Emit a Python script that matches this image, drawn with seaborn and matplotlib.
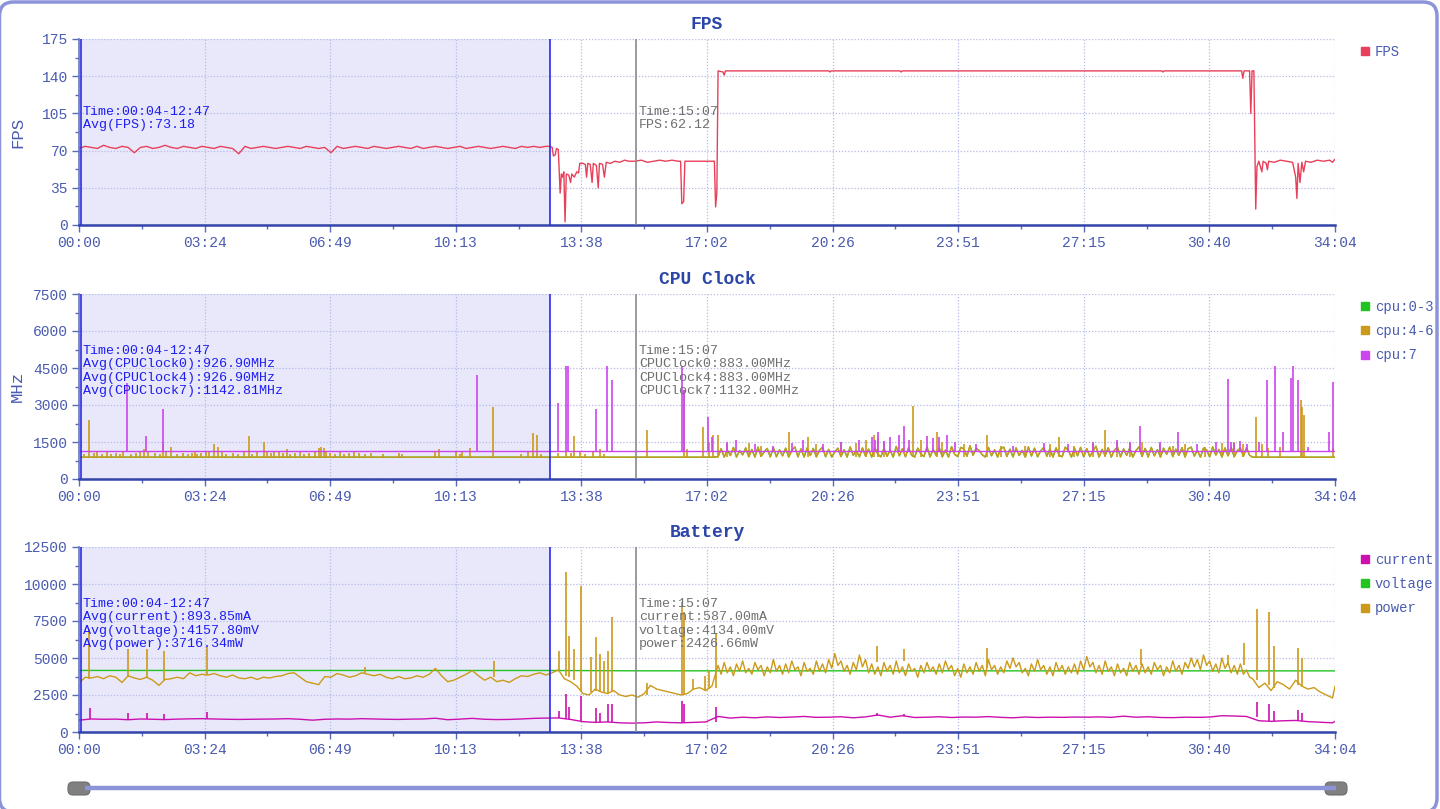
import numpy as np
import pandas as pd
import matplotlib
matplotlib.use("Agg")
import matplotlib.pyplot as plt
import seaborn as sns
from matplotlib.lines import Line2D
from matplotlib.patches import FancyBboxPatch
from matplotlib.transforms import IdentityTransform
from matplotlib.ticker import AutoMinorLocator

# ---- time axis (seconds) ----
x_ticks = [0, 204.4, 408.8, 613.2, 817.6, 1022, 1226.4, 1430.8, 1635.2, 1839.6, 2044]
x_tick_labels = ['00:00', '03:24', '06:49', '10:13', '13:38', '17:02',
                 '20:26', '23:51', '27:15', '30:40', '34:04']
sel_start, sel_end, cursor_t = 4, 767, 907

# ---- FPS ----
fps_time = list(range(0, 761, 10)) + [
    767, 770, 772, 775, 777, 780, 783, 785, 787, 789, 791, 793, 797, 800, 802, 806, 810,
    813, 815, 820, 824, 826, 828, 832, 835, 837, 842, 845, 847, 852, 855, 858, 865, 872,
    880, 888, 895, 905, 915, 925, 935, 945, 955, 965, 975, 979, 981, 984, 986, 1000, 1010,
    1020, 1034, 1036, 1038, 1040, 1048, 1050, 1052, 1220, 1222, 1224, 1336, 1338, 1340,
    1762, 1764, 1766, 1892, 1894, 1896, 1905, 1907, 1909, 1912, 1914, 1915, 1917, 1920,
    1925, 1927, 1932, 1934, 1936, 1945, 1955, 1965, 1975, 1980, 1982, 1984, 1987, 1990,
    1993, 1996, 2005, 2015, 2025, 2035, 2040, 2044]
fps_vals = [
    72, 74, 73, 72, 75, 73, 72, 74, 73, 68,
    73, 74, 72, 73, 75, 73, 72, 74, 73, 72,
    74, 73, 72, 74, 73, 72, 67, 74, 72, 73,
    74, 73, 72, 73, 74, 73, 72, 74, 73, 72,
    73, 68, 74, 72, 73, 74, 73, 72, 74, 73,
    72, 73, 74, 73, 72, 74, 72, 73, 74, 73,
    72, 73, 74, 72, 73, 74, 73, 72, 73, 74,
    73, 72, 74, 73, 74, 73, 74,
    74, 73, 65, 66, 72, 71, 30, 48, 45, 50, 3, 48, 47, 40, 48, 45, 50,
    49, 58, 58, 57, 45, 58, 57, 40, 58, 56, 35, 58, 57, 45, 59, 58, 60,
    59, 61, 60, 60, 61, 59, 60, 61, 60, 61, 60, 60, 20, 22, 60, 60, 60,
    60, 60, 17, 30, 145, 144, 141, 145, 145, 144, 145, 145, 144, 145,
    145, 144, 145, 145, 138, 145, 145, 105, 145, 145, 58, 15, 55, 60,
    50, 60, 58, 52, 60, 59, 61, 60, 59, 45, 25, 58, 40, 59,
    50, 60, 59, 61, 60, 61, 59, 62]

# ---- CPU clock ----
cpu46_time = [0, 1030] + list(range(1040, 1906, 5)) + list(range(1910, 2041, 10)) + [2044]
cpu46_vals = [883, 883,
    900, 1230, 890, 1180, 950, 1280, 890, 1150, 980, 1260,
    900, 1200, 890, 1290, 920, 1100, 1240, 895, 1270, 900,
    1180, 940, 1250, 890, 1150, 1300, 900, 1220, 890, 1260,
    950, 1240, 895, 1160, 1290, 900, 1200, 890, 1100, 1250,
    910, 1190, 890, 1300, 960, 1150, 900, 1260, 930, 1210,
    890, 1280, 1000, 900, 1250, 920, 1170, 890, 1320, 940,
    1230, 900, 1270, 960, 890, 1250, 1020, 910, 1300, 895,
    1200, 950, 1260, 900, 1170, 890, 1310, 1000, 910, 1280,
    1220, 920, 1350, 960, 1250, 1150, 980, 890, 1280, 940,
    1180, 890, 1240, 1290, 910, 1210, 895, 1260, 950, 1160,
    890, 1300, 930, 1250, 900, 1140, 1280, 920, 1220, 890,
    1260, 970, 900, 1290, 1160, 890, 1250, 940, 1280, 900,
    1230, 910, 1120, 1330, 890, 1200, 950, 1270, 890, 1170,
    1290, 900, 1220, 960, 1260, 890, 1150, 1300, 920, 1240,
    895, 1280, 940, 1190, 890, 1250, 1000, 1290, 910, 1210,
    960, 1270, 890, 1230, 1290, 930, 1160, 890, 1250, 1180,
    900, 1300, 970, 1200, 890, 1260, 940, 1290, 900, 1150,
    1250, 920, 1270, 960,
    883, 883, 883, 883, 883, 883, 883, 883, 883, 883, 883, 883, 883, 883,
    883]
cpu03_time = cpu46_time
cpu03_vals = cpu46_vals
cpu7_time = [0, 2044]
cpu7_vals = [1135, 1135]

cpu46_spike_t = [8, 16, 24, 30, 38, 46, 52, 60, 66, 72, 84, 92, 100, 106, 112, 124, 132,
                 137, 142, 150, 160, 170, 178, 184, 188, 192, 198, 206, 212, 220, 226, 232,
                 240, 250, 258, 268, 276, 282, 290, 301, 306, 312, 318, 326, 332, 338, 344,
                 352, 360, 366, 374, 384, 390, 394, 398, 402, 408, 416, 424, 432, 440, 448,
                 456, 466, 476, 494, 520, 526, 580, 586, 614, 620, 624, 636, 673, 720, 730,
                 739, 745, 752, 780, 792, 800, 806, 815, 824, 836, 848, 855, 924, 985, 990,
                 1016, 1026, 1031, 1040, 1055, 1091, 1110, 1156, 1186, 1200, 1240, 1265,
                 1280, 1293, 1300, 1310, 1357, 1370, 1396, 1405, 1440, 1478, 1500, 1540,
                 1580, 1595, 1620, 1650, 1670, 1690, 1710, 1730, 1760, 1780, 1800, 1833,
                 1860, 1880, 1895, 1916, 1925, 1935, 1955, 1989, 1991, 1993, 2040]
cpu46_spike_v = [1000, 2380, 1050, 1100, 1000, 1150, 1000, 1050, 1000, 1100, 1000, 1050,
                 1150, 1200, 1100, 1050, 1000, 1400, 1100, 1300, 1000, 1050, 1000, 1050,
                 1100, 1000, 1050, 1100, 1150, 1400, 1300, 1100, 1000, 1050, 1000, 1100,
                 1750, 1000, 1100, 1500, 1100, 1050, 1150, 1100, 1050, 1200, 1000, 1050,
                 1100, 1000, 1050, 1100, 1250, 1300, 1250, 1100, 1050, 1000, 1100, 1000,
                 1050, 1100, 1050, 1000, 1050, 1000, 1050, 1000, 1100, 1200, 1100, 1000,
                 1150, 1250, 2900, 1000, 1100, 1850, 1800, 1000, 1050, 1100, 1050, 1750,
                 1100, 1000, 1100, 1200, 1000, 2000, 3600, 1200, 2100, 1500, 1800, 1800,
                 1400, 1450, 1350, 1900, 1700, 1400, 1500, 1450, 1600, 1800, 1650, 1500,
                 2950, 1600, 1900, 1500, 1400, 1800, 1350, 1350, 1400, 1700, 1350, 1400,
                 2000, 1500, 1450, 1500, 1400, 1350, 1400, 1300, 1450, 1500, 1400, 2500,
                 1400, 1250, 1300, 3200, 2900, 2600, 1250]
cpu7_spike_t = [78, 109, 137, 648, 780, 792, 796, 842, 860, 868, 982, 984, 1023, 1030, 1055,
                1070, 1100, 1130, 1160, 1178, 1210, 1240, 1270, 1290, 1295, 1301, 1310,
                1320, 1335, 1343, 1350, 1380, 1390, 1400, 1413, 1425, 1460, 1520, 1570,
                1610, 1650, 1690, 1710, 1727, 1760, 1789, 1820, 1850, 1870, 1875, 1880,
                1890, 1900, 1920, 1934, 1946, 1960, 1972, 1976, 1983, 2000, 2035, 2041]
cpu7_spike_v = [3900, 1750, 2850, 4200, 3100, 4600, 4600, 2850, 4600, 4000, 4600, 3600,
                2500, 1700, 1500, 1600, 1400, 1350, 1450, 1600, 1400, 1500, 1600, 1700,
                1600, 1900, 1550, 1700, 1800, 2130, 1600, 1750, 1650, 1700, 1800, 1500,
                1400, 1350, 1450, 1400, 1500, 1600, 1500, 2150, 1500, 1900, 1400, 1500,
                4050, 1500, 1450, 1550, 1400, 1500, 4000, 4600, 1900, 4100, 4600, 4000,
                1300, 1900, 3950]

# ---- Battery ----
power_time = (list(range(0, 1031, 10)) + list(range(1040, 1906, 5))
              + list(range(1910, 2041, 10)) + [2044])
power_vals = [
    3300, 3700, 3650, 3750, 3600, 3800, 3700, 3350, 3800, 3650,
    3550, 3700, 3500, 3150, 3550, 3600, 3700, 3600, 4000, 3800,
    3900, 3850, 3950, 3800, 3700, 3850, 3650, 3600, 3700, 3550,
    3700, 3650, 3750, 3800, 3950, 4000, 3700, 3400, 3300, 3200,
    3750, 3700, 3950, 3850, 3700, 3800, 4000, 3900, 3800, 3900,
    3700, 3600, 3750, 3600, 3650, 3800, 3700, 3900, 4300, 3800,
    3400, 3500, 3700, 3900, 4150, 3800, 3500, 3700, 3400, 3500,
    3350, 3600, 3800, 3750, 3900, 4000, 3850,
    4000, 4200, 3600, 3400, 3100, 2600, 2500, 2900, 2700, 2600,
    2800, 2500, 2400, 2500, 2350, 2600, 3150, 2900, 2800, 2700,
    2600, 2500, 2600, 2900, 3000, 2800, 3100,
    4500, 3900, 4700, 4000, 4400, 3800, 4600, 4100, 4800, 4000,
    4300, 3900, 4700, 4200, 4500, 3800, 4400, 4000, 4900, 4100,
    4500, 3900, 4600, 4000, 4800, 4200, 4400, 3800, 4700, 4100,
    4300, 3900, 4800, 4100, 4600, 4000, 4900, 4300, 5300, 4500,
    4800, 4100, 4500, 3900, 4700, 4200, 5200, 4400, 4900, 4000,
    4600, 3900, 4400, 3800, 4700, 4100, 4500, 3900, 4800, 4000,
    4400, 3800, 4600, 4100, 4300, 3700, 4500, 4000, 4700, 4100,
    4400, 3900, 4600, 4000, 4800, 4200, 4500, 3800, 4300, 3700,
    4600, 4000, 4400, 3900, 4700, 4100, 4500, 3800, 4900, 4200,
    4500, 3900, 4400, 4000, 4800, 4300, 5000, 4400, 4700, 4000,
    4300, 3800, 4600, 4100, 4900, 4200, 4500, 3900, 4400, 3800,
    4700, 4100, 4500, 3900, 4400, 4000, 4600, 3900, 4800, 4200,
    5100, 4400, 4700, 4000, 4500, 3900, 4800, 4100, 4400, 3800,
    4600, 4000, 4300, 3800, 4700, 4100, 4500, 3900, 4600, 4000,
    4400, 3900, 4700, 4200, 4500, 3800, 4400, 4000, 4800, 4100,
    4500, 3900, 4700, 4300, 5000, 4400, 4900, 4200, 5200, 4500,
    4800, 4100, 4600, 4000, 5000, 4300, 4700, 4000, 4500, 3900,
    4600, 3900, 4200, 3700,
    3600, 3000, 3300, 2800, 3400, 3200, 2900, 3500, 3100, 2900,
    3000, 2700, 2500, 2300, 3100]
power_spike_t = [17, 79, 110, 138, 209, 465, 676, 781, 792, 797, 805, 817, 834, 842, 848,
                 855, 861, 868, 925, 982, 985, 1000, 1018, 1026, 1037, 1298, 1343, 1478,
                 1728, 1870, 1896, 1917, 1936, 1945, 1984, 1991]
power_spike_lo = [3600, 3700, 3650, 3500, 3850, 3900, 3700, 4200, 3800, 3700, 3500, 2800,
                  2700, 2800, 2800, 2700, 2600, 2700, 2500, 2500, 2500, 2900, 2800, 2900,
                  3000, 4700, 4800, 4300, 4500, 4500, 4500, 3500, 3200, 3000, 3200, 3100]
power_spike_hi = [6950, 5600, 5600, 5500, 5750, 4400, 4800, 5500, 10800, 6500, 5600, 9850,
                  5100, 6400, 5300, 4800, 5500, 7800, 3300, 8800, 8100, 3600, 3800, 4100,
                  6700, 5800, 5600, 5700, 5600, 5200, 6000, 8300, 8100, 5800, 5700, 5000]

current_time = list(range(0, 2041, 20)) + [2044]
current_vals = [
    800, 880, 860, 870, 830, 880, 860, 840, 870, 890,
    900, 880, 860, 850, 860, 870, 880, 900, 860, 800,
    860, 880, 870, 900, 880, 860, 850, 870, 880, 930,
    830, 870, 920, 860, 840, 850, 880, 920, 940,
    950, 850, 700, 650, 680, 620, 600, 620, 680, 640, 620, 650, 680,
    1050, 940, 1000, 960, 1020, 980, 1010, 1050, 990, 1000,
    1030, 960, 1020, 1150, 1000, 1100, 980, 1000, 1030, 980,
    1010, 1000, 1040, 990, 960, 1010, 980, 1000, 990, 1010,
    1000, 1020, 990, 1070, 1000, 1030, 980, 970, 1000, 990,
    1010, 1100, 1080, 1050,
    760, 720, 760, 780, 700, 660, 620, 720]
current_spike_t = [18, 79, 110, 138, 209, 781, 792, 797, 817, 842, 848, 861, 868, 982, 985,
                   1037, 1298, 1343, 1917, 1936, 1945, 1984, 1991]
current_spike_lo = [860, 860, 870, 860, 900, 950, 900, 900, 750, 650, 650, 680, 650, 620,
                    620, 700, 1100, 1050, 1000, 750, 750, 780, 760]
current_spike_hi = [1650, 1300, 1300, 1200, 1350, 1400, 2600, 1700, 2400, 1600, 1300, 1900,
                    1900, 2100, 1900, 1700, 1300, 1250, 2050, 1900, 1400, 1500, 1300]

voltage_time = [0, 767, 907, 2044]
voltage_vals = [4160, 4155, 4134, 4130]

# ---- annotation texts ----
fps_sel_text = "Time:00:04-12:47\nAvg(FPS):73.18"
fps_cur_text = "Time:15:07\nFPS:62.12"
cpu_sel_text = ("Time:00:04-12:47\nAvg(CPUClock0):926.90MHz\n"
                "Avg(CPUClock4):926.90MHz\nAvg(CPUClock7):1142.81MHz")
cpu_cur_text = "Time:15:07\nCPUClock0:883.00MHz\nCPUClock4:883.00MHz\nCPUClock7:1132.00MHz"
bat_sel_text = ("Time:00:04-12:47\nAvg(current):893.85mA\n"
                "Avg(voltage):4157.80mV\nAvg(power):3716.34mW")
bat_cur_text = "Time:15:07\ncurrent:587.00mA\nvoltage:4134.00mV\npower:2426.66mW"

# ---- colours ----
c_fps = '#e8405a'
c_green = '#22c422'
c_gold = '#cc9a1a'
c_purple = '#cc44ee'
c_magenta = '#cc10b0'
c_tick = '#4a5bb0'
c_title = '#2b45a8'
c_grid = '#b4bbe8'
c_frame = '#8c94d9'

sns.set_style("white")
plt.rcParams['font.family'] = ['Liberation Mono', 'DejaVu Sans Mono']

fig = plt.figure(figsize=(14.4, 8.09), dpi=100)
fig.patch.set_facecolor('white')
L, W = 79 / 1440, 1256 / 1440
ax_fps = fig.add_axes([L, 1 - 225 / 809, W, 186 / 809])
ax_cpu = fig.add_axes([L, 1 - 479 / 809, W, 185 / 809])
ax_bat = fig.add_axes([L, 1 - 732 / 809, W, 185 / 809])


def draw_line(ax, t, v, color, lw=1.0):
    df = pd.DataFrame({'t': t, 'v': v})
    sns.lineplot(data=df, x='t', y='v', ax=ax, color=color, linewidth=lw,
                 estimator=None, legend=False, zorder=3)


def style_axes(ax, title, ymax, ystep, ylabel, sel_text, cur_text, text_y, legend_items):
    ax.set_xlim(0, 2044)
    ax.set_ylim(0, ymax)
    ax.set_xticks(x_ticks)
    ax.set_xticklabels(x_tick_labels)
    ax.set_yticks(np.arange(0, ymax + 1, ystep))
    ax.xaxis.set_minor_locator(AutoMinorLocator(2))
    ax.yaxis.set_minor_locator(AutoMinorLocator(2))
    ax.set_axisbelow(True)
    ax.grid(True, which='major', color=c_grid, linestyle=(0, (1, 1.5)), linewidth=0.9)
    ax.tick_params(axis='both', which='major', direction='out', length=5, width=1,
                   color='#5a6ab8', labelcolor=c_tick, labelsize=10.5, pad=3)
    ax.tick_params(axis='both', which='minor', direction='out', length=3, width=1,
                   color='#5a6ab8')
    ax.tick_params(axis='x', which='both', bottom=True)
    ax.tick_params(axis='y', which='both', left=True)
    for s in ['top', 'right']:
        ax.spines[s].set_visible(False)
    ax.spines['left'].set_color('#6677bb')
    ax.spines['left'].set_linewidth(1.2)
    ax.spines['bottom'].set_color('#3344aa')
    ax.spines['bottom'].set_linewidth(1.8)
    ax.set_xlabel('')
    ax.set_ylabel(ylabel, color=c_tick, fontsize=12.5)
    ax.yaxis.set_label_coords(-0.043, 0.5)
    ax.set_title(title, color=c_title, fontsize=13, fontweight='bold', pad=7)
    ax.axvspan(sel_start, sel_end, color='#e8e8fa', zorder=0.2, lw=0)
    ax.axvline(sel_start, color='#2a2ae8', lw=1.2, zorder=4)
    ax.axvline(sel_end, color='#2a2ae8', lw=1.2, zorder=4)
    ax.axvline(cursor_t, color='#8a8a8a', lw=1.2, zorder=4)
    tr = ax.get_xaxis_transform()
    ax.text(6, text_y, sel_text, transform=tr, va='top', ha='left', color='#1e1ef0',
            fontsize=9.6, linespacing=1.15, zorder=5)
    ax.text(911, text_y, cur_text, transform=tr, va='top', ha='left', color='#707070',
            fontsize=9.6, linespacing=1.15, zorder=5)
    handles = [Line2D([], [], marker='s', linestyle='none', color=c, markersize=5.5, label=lab)
               for lab, c in legend_items]
    ax.legend(handles=handles, loc='upper left', bbox_to_anchor=(1.015, 1.0), frameon=False,
              handlelength=0.8, handletextpad=0.3, labelspacing=0.75, fontsize=10,
              borderaxespad=0, labelcolor=c_tick)


# FPS panel
draw_line(ax_fps, fps_time, fps_vals, c_fps)
style_axes(ax_fps, 'FPS', 175, 35, 'FPS', fps_sel_text, fps_cur_text, 0.64,
           [('FPS', c_fps)])

# CPU panel
draw_line(ax_cpu, cpu03_time, cpu03_vals, c_green)
draw_line(ax_cpu, cpu46_time, cpu46_vals, c_gold)
ax_cpu.vlines(cpu46_spike_t, 883, cpu46_spike_v, colors=c_gold, linewidth=1.2, zorder=3)
draw_line(ax_cpu, cpu7_time, cpu7_vals, c_purple)
ax_cpu.vlines(cpu7_spike_t, 1135, cpu7_spike_v, colors=c_purple, linewidth=1.2, zorder=3)
style_axes(ax_cpu, 'CPU Clock', 7500, 1500, 'MHz', cpu_sel_text, cpu_cur_text, 0.724,
           [('cpu:0-3', c_green), ('cpu:4-6', c_gold), ('cpu:7', c_purple)])

# Battery panel
draw_line(ax_bat, current_time, current_vals, c_magenta)
ax_bat.vlines(current_spike_t, current_spike_lo, current_spike_hi, colors=c_magenta,
              linewidth=1.2, zorder=3)
draw_line(ax_bat, voltage_time, voltage_vals, c_green)
draw_line(ax_bat, power_time, power_vals, c_gold)
ax_bat.vlines(power_spike_t, power_spike_lo, power_spike_hi, colors=c_gold,
              linewidth=1.2, zorder=3)
style_axes(ax_bat, 'Battery', 12500, 2500, '', bat_sel_text, bat_cur_text, 0.724,
           [('current', c_magenta), ('voltage', c_green), ('power', c_gold)])

# outer rounded frame and the range slider underneath
frame = FancyBboxPatch((-0.5, -3), 1437.5, 810, boxstyle='round,pad=0,rounding_size=14',
                       transform=IdentityTransform(), facecolor='none',
                       edgecolor=c_frame, linewidth=2.5)
fig.add_artist(frame)
fig.add_artist(Line2D([85, 1336], [21, 21], transform=IdentityTransform(),
                      color=c_frame, linewidth=3.2, solid_capstyle='butt'))
for hx in [68, 1325]:
    fig.add_artist(FancyBboxPatch((hx, 14), 22, 13, boxstyle='round,pad=0,rounding_size=5',
                                  transform=IdentityTransform(), facecolor='#808080',
                                  edgecolor='#6e6e6e', linewidth=0.8))

fig.savefig('out.png', dpi=100, facecolor='white')
